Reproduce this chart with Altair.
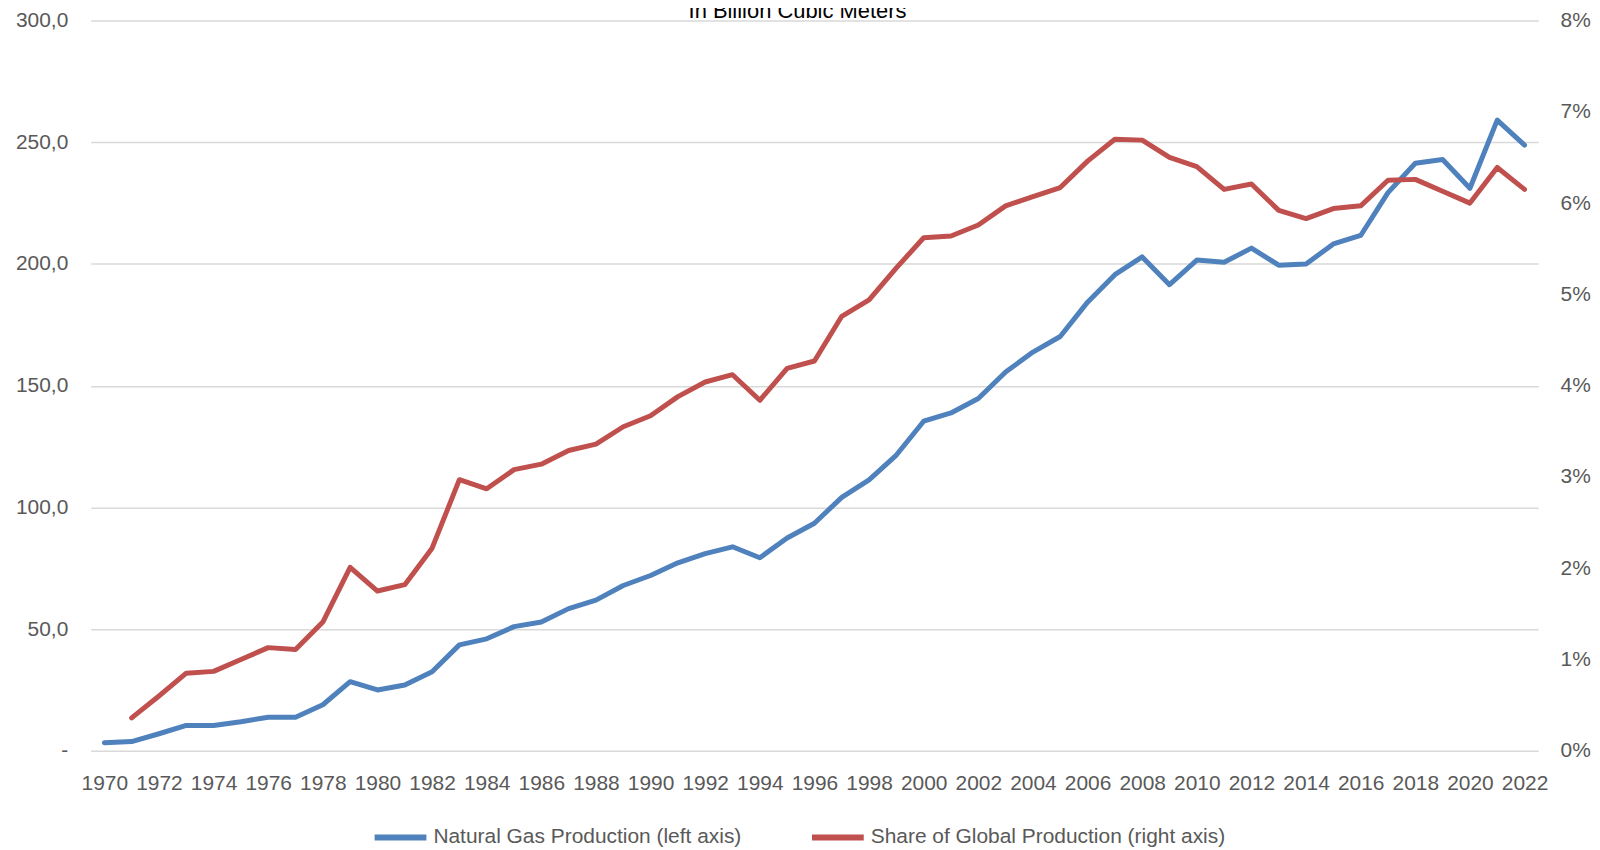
import altair as alt
import pandas as pd

FONT = "Liberation Sans, Arial, sans-serif"
LABEL_COLOR = "#595959"
FS = 21

years = list(range(1970, 2023))
year_ticks = list(range(1970, 2023, 2))

production = [3.3, 3.8, 7.0, 10.4, 10.4, 11.9, 13.8, 13.8, 18.9, 28.4,
              25.0, 27.0, 32.5, 43.5, 46.0, 51.0, 52.9, 58.4, 61.9, 67.9,
              72.0, 77.2, 81.0, 83.8, 79.3, 87.4, 93.5, 104.1, 111.3, 121.5,
              135.4, 138.8, 144.7, 155.6, 163.8, 170.2, 184.3, 195.6, 202.9, 191.5,
              201.6, 200.7, 206.5, 199.5, 200.0, 208.2, 211.7, 229.3, 241.4, 242.9,
              231.1, 259.1, 248.8]

share_pct = [None, 0.36, 0.60, 0.85, 0.87, 1.00, 1.13, 1.11, 1.41, 2.01,
             1.75, 1.82, 2.22, 2.97, 2.87, 3.08, 3.14, 3.29, 3.36, 3.55,
             3.67, 3.88, 4.04, 4.12, 3.84, 4.19, 4.27, 4.76, 4.94, 5.29,
             5.62, 5.64, 5.76, 5.97, 6.07, 6.17, 6.46, 6.70, 6.69, 6.50,
             6.40, 6.15, 6.21, 5.92, 5.83, 5.94, 5.97, 6.25, 6.26, 6.13,
             6.00, 6.39, 6.15]

series_names = ["Natural Gas Production (left axis)",
                "Share of Global Production (right axis)"]
series_colors = ["#4F81BD", "#C0504D"]

left_ticks = [0, 50, 100, 150, 200, 250, 300]
right_ticks = [0, 1, 2, 3, 4, 5, 6, 7, 8]

df = pd.DataFrame({"year": years, "production": production, "share": share_pct})

x_enc = alt.X(
    "year:Q",
    scale=alt.Scale(domain=[1969.5, 2022.5], nice=False, zero=False),
    axis=alt.Axis(values=year_ticks, format="d", title=None, grid=False,
                  domain=False, ticks=False, labelPadding=22,
                  labelFontSize=FS, labelColor=LABEL_COLOR, labelFont=FONT,
                  labelFlush=False, labelOverlap=False),
)

color_enc = alt.Color(
    "series:N",
    scale=alt.Scale(domain=series_names, range=series_colors),
    legend=alt.Legend(
        title=None, orient="none", direction="horizontal",
        legendX=282, legendY=791,
        symbolType="stroke", symbolStrokeWidth=6, symbolSize=2700,
        labelFontSize=FS, labelFont=FONT, labelColor=LABEL_COLOR,
        labelLimit=0, labelOffset=4, columnPadding=58, padding=0,
    ),
)

base = alt.Chart(df)

blue = base.transform_calculate(
    series=f"'{series_names[0]}'"
).mark_line(strokeWidth=5, strokeCap="round", strokeJoin="round").encode(
    x=x_enc,
    y=alt.Y("production:Q",
            scale=alt.Scale(domain=[0, 300], nice=False, zero=True),
            axis=alt.Axis(values=left_ticks, title=None, orient="left",
                          grid=True, gridColor="#D9D9D9", gridWidth=1.5,
                          domain=False, ticks=False, labelPadding=23,
                          labelFontSize=FS, labelColor=LABEL_COLOR, labelFont=FONT,
                          labelExpr="datum.value == 0 ? '-' : replace(format(datum.value, '.1f'), '.', ',')")),
    color=color_enc,
)

red = base.transform_filter("isValid(datum.share)").transform_calculate(
    series=f"'{series_names[1]}'"
).mark_line(strokeWidth=5, strokeCap="round", strokeJoin="round").encode(
    x=x_enc,
    y=alt.Y("share:Q",
            scale=alt.Scale(domain=[0, 8], nice=False, zero=True),
            axis=alt.Axis(values=right_ticks, title=None, orient="right",
                          grid=False, domain=False, ticks=False, labelPadding=22,
                          labelFontSize=FS, labelColor=LABEL_COLOR, labelFont=FONT,
                          labelExpr="datum.value + '%'")),
    color=color_enc,
)

chart = alt.layer(blue, red).resolve_scale(y="independent").properties(
    width=1453,
    height=733,
    autosize=alt.AutoSizeParams(type="none"),
    padding={"left": 83, "top": 11, "right": 54, "bottom": 96},
    title=alt.TitleParams("In Billion Cubic Meters", fontSize=22, font=FONT,
                          fontWeight="normal", color="#000000", anchor="middle",
                          offset=2, dx=-17, dy=15),
).configure(background="white").configure_view(stroke=None)

chart.save("out.html", embed_options={"renderer": "svg", "actions": False})
